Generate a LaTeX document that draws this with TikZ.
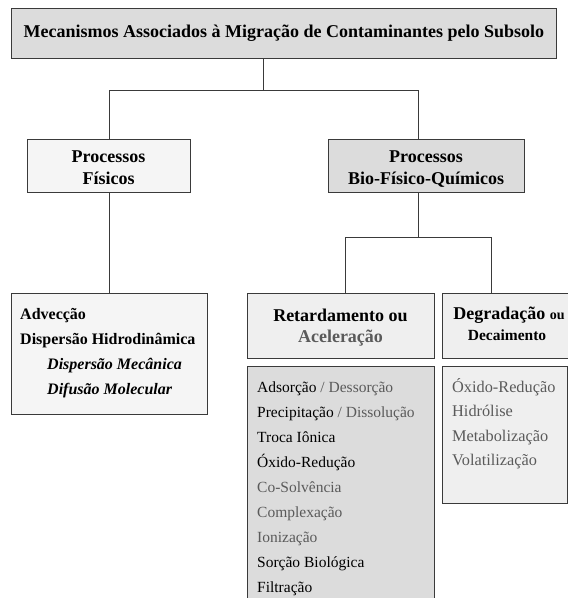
\documentclass[tikz,border=0pt]{standalone}
\usepackage{fontspec}
\setmainfont{Liberation Serif}
\definecolor{fillA}{HTML}{DCDCDC}
\definecolor{fillB}{HTML}{F5F5F5}
\definecolor{fillC}{HTML}{EFEFEF}
\definecolor{lineC}{HTML}{3A3A3A}
\definecolor{grayT}{HTML}{5A5A5A}
\tikzset{
  box/.style={draw=lineC, line width=1pt, inner sep=0pt, anchor=north west},
  conn/.style={draw=lineC, line width=0.9pt},
  hdr/.style={font=\bfseries\fontsize{18}{22}\selectfont, align=center},
  itemb/.style={font=\bfseries\fontsize{16}{20}\selectfont, anchor=base west, inner sep=0pt},
  itemr/.style={font=\fontsize{15.5}{20}\selectfont, anchor=base west, inner sep=0pt},
  itemd/.style={font=\fontsize{16.3}{20}\selectfont, anchor=base west, inner sep=0pt, text=grayT},
  grayt/.style={text=grayT},
}
\begin{document}
\begin{tikzpicture}[x=1pt,y=-1pt]
\useasboundingbox (0,0) rectangle (568,598);
\fill[white] (0,0) rectangle (568,598);

% boxes
\node[box, fill=fillA, minimum width=545pt, minimum height=50pt] (top) at (11,8) {};
\node[box, fill=fillB, minimum width=163pt, minimum height=53pt] (fis) at (27,139) {};
\node[box, fill=fillA, minimum width=196pt, minimum height=53pt] (bio) at (328,139) {};
\node[box, fill=fillB, minimum width=196pt, minimum height=121pt] (left) at (11,293) {};
\node[box, fill=fillC, minimum width=187pt, minimum height=65pt] (ret) at (247,293) {};
\node[box, fill=fillC, minimum width=135pt, minimum height=65pt] (deg) at (442,293) {};
\node[box, fill=fillA, minimum width=187pt, minimum height=245pt] (retl) at (247,366) {};
\node[box, fill=fillC, minimum width=125pt, minimum height=137pt] (degl) at (442,366) {};

% connectors
\coordinate (j0) at (263,90);
\coordinate (j1) at (418,90);
\coordinate (j2) at (418,237);
\coordinate (j3) at (345,237);
\coordinate (j4) at (491,237);
\draw[conn] (top.south -| j0) -- (j0);
\draw[conn] (fis.north) |- (j1) -- (bio.north -| j1);
\draw[conn] (fis.south) -- (left.north -| fis.south);
\draw[conn] (bio.south -| j2) -- (j2);
\draw[conn] (ret.north -| j3) -- (j3) -- (j4) -- (deg.north -| j4);

% header texts
\node[hdr, anchor=base] (toptxt) at (284,37.5) {Mecanismos Associados à Migração de Contaminantes pelo Subsolo};
\node[hdr, anchor=base] (fis1) at (108.5,162.5) {Processos};
\node[hdr, anchor=base] (fis2) at (108.5,184.5) {Físicos};
\node[hdr, anchor=base] (bio1) at (426,162.5) {Processos};
\node[hdr, anchor=base] (bio2) at (426,184.5) {Bio-Físico-Químicos};
\node[hdr, anchor=base] (ret1) at (340.5,321.5) {Retardamento ou};
\node[hdr, anchor=base, grayt] (ret2) at (340.5,342.5) {Aceleração};
\node[hdr, anchor=base] (deg1) at (509,319) {Degradação {\fontsize{14}{16}\selectfont ou}};
\node[hdr, anchor=base, font=\bfseries\fontsize{15.5}{18}\selectfont] (deg2) at (507,340) {Decaimento};

% left list
\node[itemb] (l1) at (20,319) {Advecção};
\node[itemb] (l2) at (20,344) {Dispersão Hidrodinâmica};
\node[itemb, font=\bfseries\itshape\fontsize{16}{20}\selectfont] (l3) at (47,369) {Dispersão Mecânica};
\node[itemb, font=\bfseries\itshape\fontsize{16}{20}\selectfont] (l4) at (47,394) {Difusão Molecular};

% retardamento list
\node[itemr] (r1) at (257,392) {Adsorção \textcolor{grayT}{/ Dessorção}};
\node[itemr] (r2) at (257,417) {Precipitação \textcolor{grayT}{/ Dissolução}};
\node[itemr] (r3) at (257,442) {Troca Iônica};
\node[itemr] (r4) at (257,467) {Óxido-Redução};
\node[itemr, grayt] (r5) at (257,492) {Co-Solvência};
\node[itemr, grayt] (r6) at (257,517) {Complexação};
\node[itemr, grayt] (r7) at (257,542) {Ionização};
\node[itemr] (r8) at (257,567) {Sorção Biológica};
\node[itemr] (r9) at (257,592) {Filtração};

% degradacao list
\node[itemd] (d1) at (452,392) {Óxido-Redução};
\node[itemd] (d2) at (452,416.5) {Hidrólise};
\node[itemd] (d3) at (452,441) {Metabolização};
\node[itemd] (d4) at (452,465.5) {Volatilização};
\end{tikzpicture}
\end{document}
